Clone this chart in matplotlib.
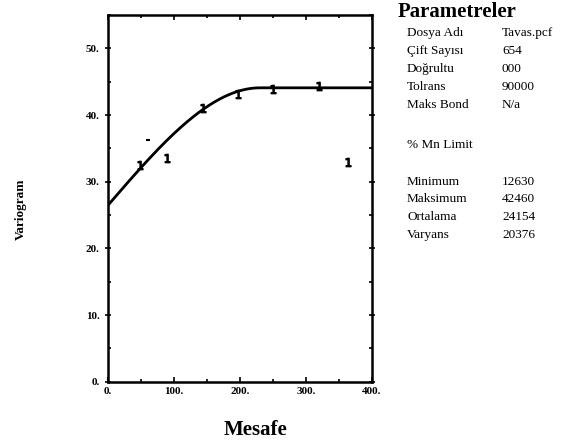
import numpy as np
import matplotlib.pyplot as plt

# experimental variogram points (distance, gamma)
mesafe = [48, 89, 144, 197, 250, 320, 364]
gamma = [32.5, 33.5, 41.0, 43.2, 43.9, 44.3, 33.0]
# tiny stray mark
mesafe_k = [60]
gamma_k = [36.2]

# spherical model
nugget = 26.5
sill = 44.1
rng = 230.0

x_ticks = [0, 100, 200, 300, 400]
y_ticks = [0, 10, 20, 30, 40, 50]

param_labels = ['Dosya Adı', 'Çift Sayısı', 'Doğrultu', 'Tolrans', 'Maks Bond']
param_values = ['Tavas.pcf', '654', '000', '90000', 'N/a']
stat_labels = ['Minimum', 'Maksimum', 'Ortalama', 'Varyans']
stat_values = ['12630', '42460', '24154', '20376']

plt.rcParams['font.family'] = ['Liberation Serif', 'DejaVu Serif']

fig = plt.figure(figsize=(5.75, 4.46), dpi=100)
ax = fig.add_axes([0.188, 0.144, 0.459, 0.822])

h = np.linspace(0, 400, 400)
model = np.where(h < rng, nugget + (sill - nugget) * (1.5 * h / rng - 0.5 * (h / rng) ** 3), sill)
ax.plot(h, model, color='black', lw=2)
ax.plot(mesafe, gamma, linestyle='none', marker='$1$', markersize=6, color='black')
ax.plot(mesafe_k, gamma_k, linestyle='none', marker='_', markersize=3, mew=1.5, color='black')

ax.set_xlim(0, 400)
ax.set_ylim(0, 55)
ax.set_xticks(x_ticks)
ax.set_yticks(y_ticks)
ax.set_xticklabels([f'{t}.' for t in x_ticks], fontweight='bold', fontsize=8)
ax.set_yticklabels([f'{t}.' for t in y_ticks], fontweight='bold', fontsize=8)
ax.set_xticks(np.arange(0, 401, 50), minor=True)
ax.set_yticks(np.arange(0, 56, 5), minor=True)
ax.tick_params(direction='in', top=True, right=True, which='both', width=1.2)
ax.tick_params(axis='y', which='major', direction='inout', length=5)
for s in ax.spines.values():
    s.set_linewidth(1.8)

fig.text(255 / 575, 1 - 430 / 446, 'Mesafe', fontsize=15, fontweight='bold', ha='center', va='center')
fig.text(21 / 575, 1 - 209 / 446, 'Variogram', fontsize=9.5, fontweight='bold',
         rotation=90, ha='center', va='center')

fig.text(398 / 575, 1 - 12 / 446, 'Parametreler', fontsize=15, fontweight='bold', va='center')
ys = [33, 51, 69, 87, 105]
for y, lab, val in zip(ys, param_labels, param_values):
    fig.text(407 / 575, 1 - y / 446, lab, fontsize=9.5, va='center')
    fig.text(502 / 575, 1 - y / 446, val, fontsize=9.5, va='center')
fig.text(407 / 575, 1 - 145 / 446, '% Mn Limit', fontsize=9.5, va='center')
ys = [182, 199, 217, 235]
for y, lab, val in zip(ys, stat_labels, stat_values):
    fig.text(407 / 575, 1 - y / 446, lab, fontsize=9.5, va='center')
    fig.text(502 / 575, 1 - y / 446, val, fontsize=9.5, va='center')

fig.savefig('out.png', dpi=100)
